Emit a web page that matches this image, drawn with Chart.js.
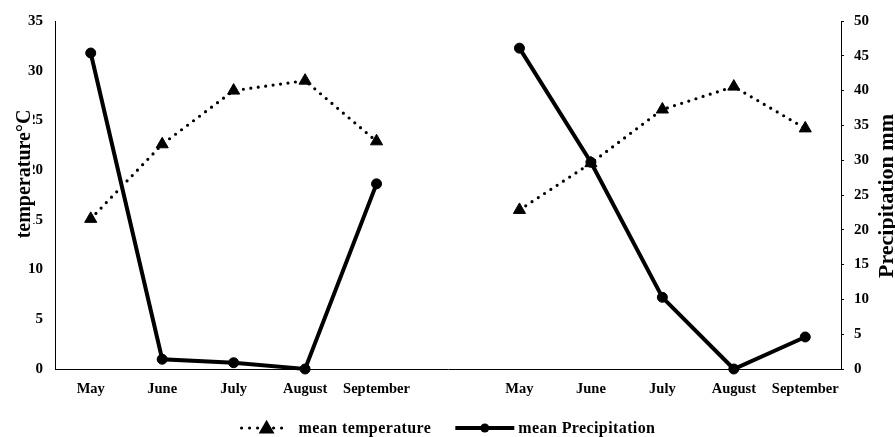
<!DOCTYPE html>
<html>
<head>
<meta charset="utf-8">
<script src="https://cdn.jsdelivr.net/npm/chart.js@4/dist/chart.umd.min.js"></script>
<style>
  html, body { margin: 0; padding: 0; background: #fff; }
  #wrap { width: 895px; height: 437px; }
</style>
</head>
<body>
<div id="wrap"><canvas id="c" width="895" height="437"></canvas></div>
<script>
// Two seasons side by side, separated by an empty slot
const categories = ['May', 'June', 'July', 'August', 'September', '',
                    'May', 'June', 'July', 'August', 'September'];
const meanTemperature   = [15.1, 22.6, 28.0, 29.0, 22.9, null, 16.0, 20.7, 26.1, 28.4, 24.2];
const meanPrecipitation = [45.4, 1.4, 0.9, 0, 26.6, null, 46.1, 29.7, 10.3, 0, 4.6];
const temperatureTicks   = { min: 0, max: 35, step: 5 };
const precipitationTicks = { min: 0, max: 50, step: 5 };

const SERIF = "'Liberation Serif', 'Times New Roman', serif";
const yTickFont = { family: SERIF, size: 15, weight: 'bold' };
const xTickFont = { family: SERIF, size: 14.5, weight: 'bold' };

// Axis titles (both read bottom-to-top) and the legend row
const extras = {
  id: 'extras',
  afterDraw(chart) {
    const ctx = chart.ctx;
    const area = chart.chartArea;
    ctx.save();

    // left title sits on a white box that trims the tick digits behind it
    const leftCy = 174;
    ctx.fillStyle = '#fff';
    ctx.fillRect(8, 110, 25, 130);
    ctx.fillStyle = '#000';
    ctx.font = `bold 20px ${SERIF}`;
    ctx.textAlign = 'center';
    ctx.textBaseline = 'alphabetic';
    ctx.save();
    ctx.translate(30, leftCy);
    ctx.rotate(-Math.PI / 2);
    ctx.fillText('temperature°C', 0, 0);
    ctx.restore();

    ctx.font = `bold 22px ${SERIF}`;
    ctx.save();
    ctx.translate(893, (area.top + area.bottom) / 2 + 1);
    ctx.rotate(-Math.PI / 2);
    ctx.fillText('Precipitation mm', 0, 0);
    ctx.restore();

    // legend
    const ds = chart.data.datasets;
    const y = 428;
    ctx.font = `bold 16px ${SERIF}`;
    ctx.letterSpacing = '0.4px';
    ctx.textAlign = 'left';
    ctx.textBaseline = 'alphabetic';
    const w0 = ctx.measureText(ds[0].label).width;
    const w1 = ctx.measureText(ds[1].label).width;
    const m0 = 50, g0 = 9, m1 = 59, g1 = 4, gap = 24;
    const total = m0 + g0 + w0 + gap + m1 + g1 + w1;
    let x = (chart.width - total) / 2;

    // dotted line with triangle
    ctx.strokeStyle = '#000';
    ctx.fillStyle = '#000';
    ctx.lineWidth = 3.2;
    ctx.lineCap = 'round';
    ctx.setLineDash([0, 8]);
    ctx.beginPath();
    ctx.moveTo(x + 2, y);
    ctx.lineTo(x + m0 - 2, y);
    ctx.stroke();
    ctx.setLineDash([]);
    Chart.helpers.drawPoint(ctx, { pointStyle: 'triangle', radius: 6, borderWidth: 1 }, x + m0 / 2 + 2, y + 1);
    x += m0 + g0;
    ctx.fillText(ds[0].label, x, y + 5);
    x += w0 + gap;

    // solid line with circle
    ctx.lineWidth = 4;
    ctx.lineCap = 'butt';
    ctx.beginPath();
    ctx.moveTo(x, y);
    ctx.lineTo(x + m1, y);
    ctx.stroke();
    ctx.beginPath();
    ctx.arc(x + m1 / 2, y, 4.5, 0, Math.PI * 2);
    ctx.fill();
    x += m1 + g1;
    ctx.fillText(ds[1].label, x, y + 5);

    ctx.restore();
  }
};

new Chart(document.getElementById('c'), {
  type: 'line',
  data: {
    labels: categories,
    datasets: [
      {
        label: 'mean temperature',
        data: meanTemperature,
        yAxisID: 'yT',
        borderColor: '#000',
        backgroundColor: '#000',
        borderWidth: 3.2,
        borderDash: [0, 7.5],
        borderCapStyle: 'round',
        pointStyle: 'triangle',
        pointRadius: 7,
        pointBorderWidth: 1,
        pointHoverRadius: 7,
        spanGaps: false,
        clip: false,
        tension: 0
      },
      {
        label: 'mean Precipitation',
        data: meanPrecipitation,
        yAxisID: 'yP',
        borderColor: '#000',
        backgroundColor: '#000',
        borderWidth: 4,
        pointStyle: 'circle',
        pointRadius: 5,
        pointBorderWidth: 1,
        pointHoverRadius: 5,
        spanGaps: false,
        clip: false,
        tension: 0
      }
    ]
  },
  options: {
    responsive: false,
    animation: false,
    devicePixelRatio: 1,
    events: [],
    layout: { padding: { top: 21, left: 0, right: 0, bottom: 0 } },
    plugins: {
      legend: { display: false },
      tooltip: { enabled: false },
      title: { display: false }
    },
    scales: {
      x: {
        type: 'category',
        offset: true,
        grid: { display: false, drawTicks: false },
        border: { display: true, color: '#000', width: 1 },
        ticks: { color: '#000', font: xTickFont, padding: 12, autoSkip: false, maxRotation: 0 },
        afterFit(s) { s.height = 68; }
      },
      yT: {
        position: 'left',
        min: temperatureTicks.min,
        max: temperatureTicks.max,
        grid: { display: false, drawTicks: false },
        border: { display: true, color: '#000', width: 1 },
        ticks: { stepSize: temperatureTicks.step, color: '#000', font: yTickFont, padding: 12 },
        afterFit(s) { s.width = 55; }
      },
      yP: {
        position: 'right',
        min: precipitationTicks.min,
        max: precipitationTicks.max,
        grid: { display: true, drawOnChartArea: false, drawTicks: true, tickLength: 3, color: '#000', lineWidth: 1 },
        border: { display: true, color: '#000', width: 1 },
        ticks: { stepSize: precipitationTicks.step, color: '#000', font: yTickFont, padding: 10 },
        afterFit(s) { s.width = 54; }
      }
    }
  },
  plugins: [extras]
});
</script>
</body>
</html>
